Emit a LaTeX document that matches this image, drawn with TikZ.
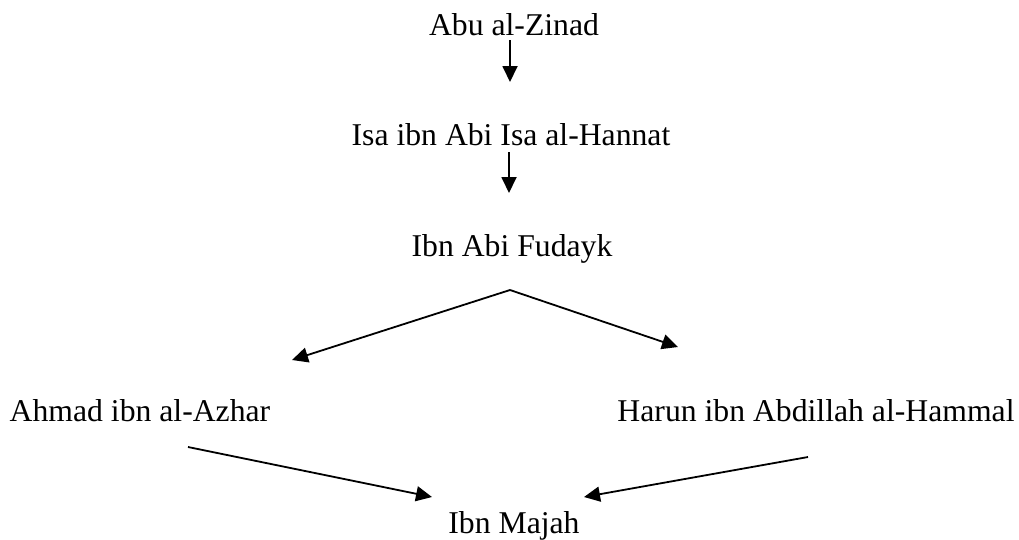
\documentclass[tikz,border=0pt]{standalone}
\usepackage{fontspec}
\setmainfont{Liberation Serif}
\usetikzlibrary{arrows.meta}
\begin{document}
\begin{tikzpicture}[x=1pt,y=-1pt,
  person/.style={inner sep=0pt,anchor=base,font=\fontsize{31.7}{38}\selectfont},
  link/.style={line width=1.8pt,-{Triangle[length=16pt,width=15pt]}}]
\useasboundingbox (0,0) rectangle (1019,539);
\node[person] (zinad) at (514,35) {Abu al-Zinad};
\node[person] (hannat) at (511,145) {Isa ibn Abi Isa al-Hannat};
\node[person] (fudayk) at (512,256) {Ibn Abi Fudayk};
\node[person] (azhar) at (140,421) {Ahmad ibn al-Azhar};
\node[person] (hammal) at (816,421) {Harun ibn Abdillah al-Hammal};
\node[person] (majah) at (514,533) {Ibn Majah};
\coordinate (a1s) at (510,40);
\coordinate (a1e) at (510,82);
\coordinate (a2s) at (509,152);
\coordinate (a2e) at (509,193);
\coordinate (apex) at (510,290);
\coordinate (lt) at (292,360);
\coordinate (rt) at (678,347);
\coordinate (ls) at (188,447);
\coordinate (le) at (432,497);
\coordinate (rs) at (808,457);
\coordinate (re) at (584,497);
\draw[link] (a1s) -- (a1e);
\draw[link] (a2s) -- (a2e);
\draw[link] (apex) -- (lt);
\draw[link] (apex) -- (rt);
\draw[link] (ls) -- (le);
\draw[link] (rs) -- (re);
\end{tikzpicture}
\end{document}
